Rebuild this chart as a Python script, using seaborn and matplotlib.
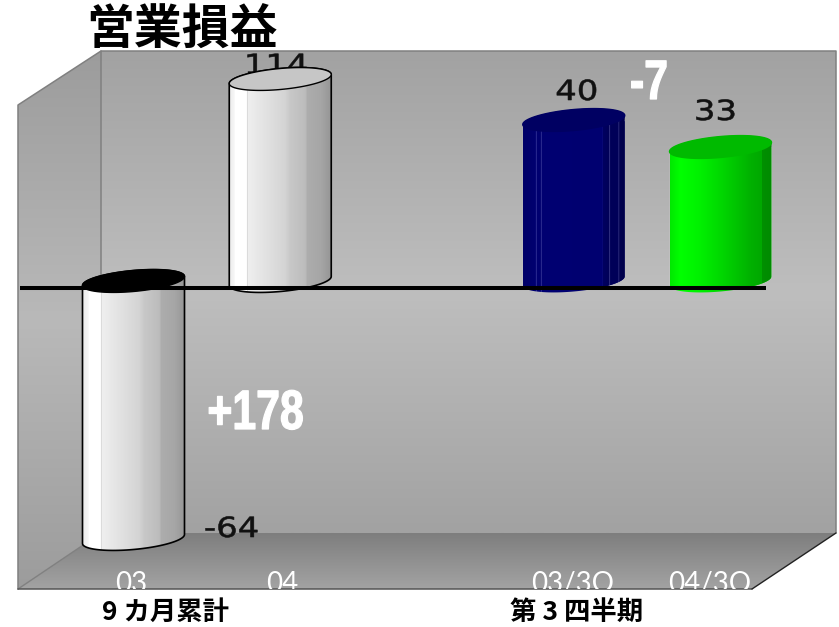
import numpy as np
import pandas as pd
import seaborn as sns
import matplotlib.pyplot as plt
import matplotlib.patheffects as pe
from matplotlib.patches import Polygon
from matplotlib.colors import LinearSegmentedColormap
from matplotlib.transforms import Affine2D, ScaledTranslation

# tick labels, printed values and drawn heights (the chart is not to scale)
periods = ['03', '04', '03/3Q', '04/3Q']
value_labels = ['-64', '114', '40', '33']
bar_heights = [-251, 209, 168, 141]
title = '営業損益'
group_names = ['9 カ月累計', '第 3 四半期']
diff_labels = ['+178', '-7']

sns.set_theme(style='white')
plt.rcParams['font.family'] = ['Noto Sans CJK JP', 'DejaVu Sans']

W = 839; H = 627; my_dpi = 100
fig = plt.figure(figsize=(W/my_dpi, H/my_dpi), dpi=my_dpi)

class Squeeze(pe.AbstractPathEffect):
    # horizontal stretch of a text about its own centre, no such font is installed
    def __init__(self, sx, stroke):
        super().__init__()
        self.sx = sx
        self.stroke = stroke

    def draw_path(self, renderer, gc, tpath, affine, rgbFace=None):
        box = tpath.transformed(affine).get_extents()
        cx = (box.x0 + box.x1)/2
        a = affine + Affine2D().translate(-cx, 0).scale(self.sx, 1).translate(cx, 0)
        gc0 = renderer.new_gc()
        gc0.copy_properties(gc)
        gc0.set_linewidth(self.stroke)
        gc0.set_foreground(rgbFace)
        renderer.draw_path(gc0, tpath, a, rgbFace)
        gc0.restore()

# ---- box behind the chart, in pixels
bg = fig.add_axes([0, 0, 1, 1], zorder=0)
bg.set_xlim(0, W); bg.set_ylim(H, 0); bg.axis('off')

def grad_fill(pts, stops, y0, y1):
    cm = LinearSegmentedColormap.from_list('g', stops)
    im = bg.imshow(np.linspace(0, 1, 256).reshape(-1, 1), cmap=cm, aspect='auto',
                   extent=[0, W, y1, y0], interpolation='bilinear')
    poly = Polygon(pts, closed=True, transform=bg.transData, fc='none', ec='none')
    bg.add_patch(poly)
    im.set_clip_path(poly)

wall = ['#a2a2a2', '#bebebe', '#a2a2a2']
grad_fill([(101, 51), (836, 51), (836, 533), (101, 533)], wall, 51, 533)
grad_fill([(18, 105), (101, 51), (101, 533), (18, 589)], ['#9c9c9c', '#b9b9b9', '#9c9c9c'], 51, 589)
grad_fill([(101, 533), (836, 533), (752, 589), (18, 589)], ['#7e7e7e', '#a3a3a3'], 533, 589)
bg.set_xlim(0, W); bg.set_ylim(H, 0)
bg.plot([18, 18, 101, 836, 836], [589, 105, 51, 51, 533], c='#808080', lw=1.1)
bg.plot([101, 101], [51, 533], c='#808080', lw=1.1)
bg.plot([18, 101], [589, 533], c='#808080', lw=1.0)
bg.plot([18, 752], [589, 589], c='#555555', lw=1.1)
bg.plot([752, 836], [589, 533], c='#222222', lw=1.0)

# ---- main axes: one category step = 146.75 px, one y unit = 1 px
ax = fig.add_axes([0, (H-589)/H, 1, 589/H], zorder=1)
ax.patch.set_visible(False)

df = pd.DataFrame({'period': periods, 'height': bar_heights})
order = [periods[0], periods[1], ' ', periods[2], periods[3]]
base_col = ['#d8d8d8', '#d8d8d8', '#000070', '#00e000']
sns.barplot(data=df, x='period', y='height', order=order, hue='period', hue_order=periods,
            palette=base_col, width=0.695, dodge=False, legend=False, saturation=1, ax=ax)

step = 146.75
xlim = (-133.5/step, (W-133.5)/step)
ylim = (-301, 288)

grey = [(0, '#ececec'), (.05, '#f6f6f6'), (.06, '#ffffff'), (.17, '#ffffff'), (.175, '#c8c8c8'),
        (.185, '#efefef'), (.55, '#d4d4d4'), (.6, '#c8c8c8'), (.75, '#bcbcbc'), (.77, '#adadad'),
        (.9, '#a6a6a6'), (1, '#969696')]
blue = [(0, '#000068'), (.12, '#000070'), (.13, '#2a2a90'), (.14, '#000070'), (.17, '#000070'),
        (.175, '#5050a8'), (.185, '#000072'), (.78, '#000070'), (.785, '#303090'), (.79, '#000060'),
        (.84, '#000058'), (.85, '#303080'), (.86, '#000058'), (.93, '#000058'), (.94, '#282878'),
        (.95, '#000050'), (1, '#000048')]
green = [(0, '#00e800'), (.1, '#00ff00'), (.3, '#00f000'), (.5, '#00d800'), (.8, '#00b000'),
         (.9, '#00a800'), (.905, '#009000'), (1, '#008a00')]
faces = [grey, grey, blue, green]
cap_col = ['#000000', '#c6c6c6', '#000062', '#00ba00']
edge_col = ['#000000', '#000000', 'none', 'none']

bars = sorted([p for p in ax.patches if p.get_width() > 0], key=lambda p: p.get_x())
tilt = 13.0    # rise per x unit of the cap
ry = 10.5      # half height of a cap
lift = 7       # the end near the zero line sits a little above it
t = np.linspace(0, np.pi, 60)
for bar, face, cap, ed in zip(bars, faces, cap_col, edge_col):
    cx = bar.get_x() + bar.get_width()/2
    rx = bar.get_width()/2
    h = bar.get_height() + bar.get_y() if bar.get_y() == 0 else bar.get_y()
    top = max(h, lift)
    low = min(h, lift)
    xa = cx + rx*np.cos(t)
    upper = top + ry*np.sin(t) + tilt*(xa - cx)
    xb = cx - rx*np.cos(t)
    lower = low - ry*np.sin(t) + tilt*(xb - cx)
    shape = Polygon(np.r_[np.c_[xa, upper], np.c_[xb, lower]], closed=True, fc='none', ec=ed, lw=1.2, zorder=4)
    ax.add_patch(shape)
    bar.set_clip_path(shape)
    cm = LinearSegmentedColormap.from_list('c', face, N=512)
    im = ax.imshow(np.linspace(0, 1, 512).reshape(1, -1), cmap=cm, aspect='auto', zorder=3,
                   extent=[cx-rx, cx+rx, low-30, top+30], interpolation='nearest')
    im.set_clip_path(shape)
    ax.add_patch(Polygon(np.r_[np.c_[xa, top + ry*np.sin(t) + tilt*(xa-cx)],
                               np.c_[xb, top - ry*np.sin(t) + tilt*(xb-cx)]],
                         closed=True, fc=cap, ec=ed if ed != 'none' else cap, lw=1.0, zorder=5))

ax.hlines(0, (20-133.5)/step, (766-133.5)/step, color='black', lw=2.9, zorder=6)
ax.set_xlim(*xlim); ax.set_ylim(*ylim)

sns.despine(ax=ax, left=True, bottom=True)
ax.set_xlabel(''); ax.set_ylabel(''); ax.set_yticks([])
ax.tick_params(axis='x', length=0, pad=-13, labelsize=20, labelcolor='white')
ax.set_xticks([0, 1, 3, 4], periods)
tick_shift = [-2, 2, -1, -11]
for lab, dx in zip(ax.get_xticklabels(), tick_shift):
    lab.set_family('Lato')
    lab.set_va('top')
    lab.set_clip_on(True)
    lab.set_clip_box(ax.bbox)
    lab.set_transform(lab.get_transform() + ScaledTranslation(dx/my_dpi, 0, fig.dpi_scale_trans))

# ---- printed values, offset from the bar ends in pixels
val_off = [(98, -241), (-4, 13), (3, 28), (-5, 35)]
for i, (s, h, o) in enumerate(zip(value_labels, bar_heights, val_off)):
    pos = [0, 1, 3, 4][i]
    y = h + o[1] if h > 0 else o[1]
    ax.text(pos + o[0]/step, y, s, family='DejaVu Sans', fontsize=20, color='#111111',
            ha='center', va='center', zorder=2, path_effects=[Squeeze(1.22, 0.4)])

fig.text(255.5/W, 1-415/H, diff_labels[0], family='Liberation Sans', fontweight='bold', fontsize=40,
         color='white', ha='center', va='center', zorder=7, path_effects=[Squeeze(0.77, 0.9)])
fig.text(649/W, 1-85/H, diff_labels[1], family='Liberation Sans', fontweight='bold', fontsize=40,
         color='white', ha='center', va='center', zorder=7, path_effects=[Squeeze(0.77, 0.9)])

fig.text(182/W, 1-30/H, title, fontsize=34.5, fontweight='bold', color='black', ha='center', va='center', zorder=7)
fig.text(166/W, 1-612.5/H, group_names[0], fontsize=19, fontweight='bold', color='black', ha='center', va='center', zorder=7)
fig.text(576.5/W, 1-612.5/H, group_names[1], fontsize=19, fontweight='bold', color='black', ha='center', va='center', zorder=7)

plt.savefig('out.png', dpi=my_dpi)
